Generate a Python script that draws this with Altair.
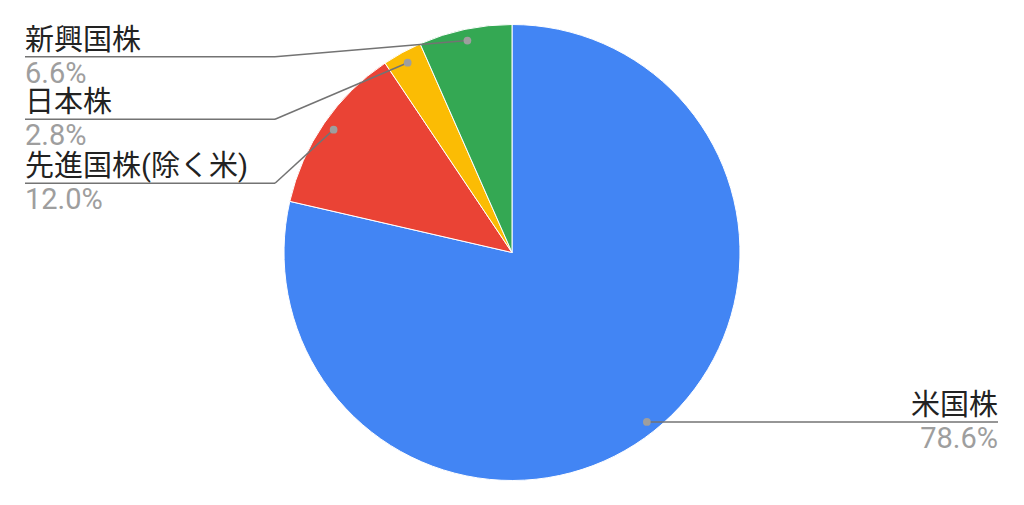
import math
import altair as alt
import pandas as pd

# ---- data ----
labels = ["米国株", "先進国株(除く米)", "日本株", "新興国株"]
values = [78.6, 12.0, 2.8, 6.6]
colors = ["#4285F4", "#EA4335", "#FBBC04", "#34A853"]

# ---- layout ----
W, H = 1008, 489
CX, CY = W / 2, H / 2
R = 228
DOT_R = 0.95 * R
LEFT_TEXT_X = 17
ELBOW_X = 267
RIGHT_TEXT_X = 990
left_line_y = {"先進国株(除く米)": 175.3, "日本株": 111.3, "新興国株": 48.7}
FONT = "Roboto, Noto Sans CJK JP, sans-serif"
FS = 29

total = sum(values)
rows, segs, texts = [], [], []
cum = 0.0
for i, (lab, v) in enumerate(zip(labels, values)):
    mid = (cum + v / 2) / total * 2 * math.pi
    cum += v
    dx = CX + DOT_R * math.sin(mid)
    dy = CY - DOT_R * math.cos(mid)
    rows.append({"label": lab, "value": v, "order": i, "dx": dx, "dy": dy})
    pct = f"{v:.1f}%"
    if lab in left_line_y:
        ly = left_line_y[lab]
        segs.append({"x": LEFT_TEXT_X, "y": ly, "x2": ELBOW_X, "y2": ly})
        segs.append({"x": ELBOW_X, "y": ly, "x2": dx, "y2": dy})
        tx, align = LEFT_TEXT_X, "left"
    else:
        ly = dy
        segs.append({"x": dx, "y": dy, "x2": RIGHT_TEXT_X, "y2": dy})
        tx, align = RIGHT_TEXT_X, "right"
    texts.append({"tx": tx, "ny": ly - 7, "py": ly + 26, "name": lab, "pct": pct, "align": align})

df = pd.DataFrame(rows)
seg_df = pd.DataFrame(segs)
txt_df = pd.DataFrame(texts)

xs = alt.Scale(domain=[0, W], range=[0, W], nice=False, zero=False)
ys = alt.Scale(domain=[0, H], reverse=True, nice=False, zero=False)

pie = alt.Chart(df).mark_arc(outerRadius=R, stroke="white", strokeWidth=1).encode(
    theta=alt.Theta("value:Q", stack=True),
    order=alt.Order("order:Q"),
    color=alt.Color("label:N", scale=alt.Scale(domain=labels, range=colors), legend=None),
)

rules = alt.Chart(seg_df).mark_rule(color="#737373", strokeWidth=1.5).encode(
    x=alt.X("x:Q", scale=xs, axis=None),
    y=alt.Y("y:Q", scale=ys, axis=None),
    x2="x2:Q",
    y2="y2:Q",
)

dots = alt.Chart(df).mark_circle(size=60, color="#9E9E9E", opacity=1).encode(
    x=alt.X("dx:Q", scale=xs, axis=None),
    y=alt.Y("dy:Q", scale=ys, axis=None),
)

def text_layer(align):
    sub = txt_df[txt_df["align"] == align]
    base = alt.Chart(sub)
    names = base.mark_text(align=align, baseline="alphabetic", font=FONT, fontSize=FS, color="#222222").encode(
        x=alt.X("tx:Q", scale=xs, axis=None),
        y=alt.Y("ny:Q", scale=ys, axis=None),
        text="name:N",
    )
    pcts = base.mark_text(align=align, baseline="alphabetic", font=FONT, fontSize=FS, color="#9E9E9E").encode(
        x=alt.X("tx:Q", scale=xs, axis=None),
        y=alt.Y("py:Q", scale=ys, axis=None),
        text="pct:N",
    )
    return names + pcts

chart = alt.layer(pie, rules, dots, text_layer("left"), text_layer("right")).properties(
    width=W, height=H, padding=0, autosize=alt.AutoSizeParams(type="none")
).configure_view(stroke=None)

chart.save("out.html", embed_options={"renderer": "svg", "actions": False})
